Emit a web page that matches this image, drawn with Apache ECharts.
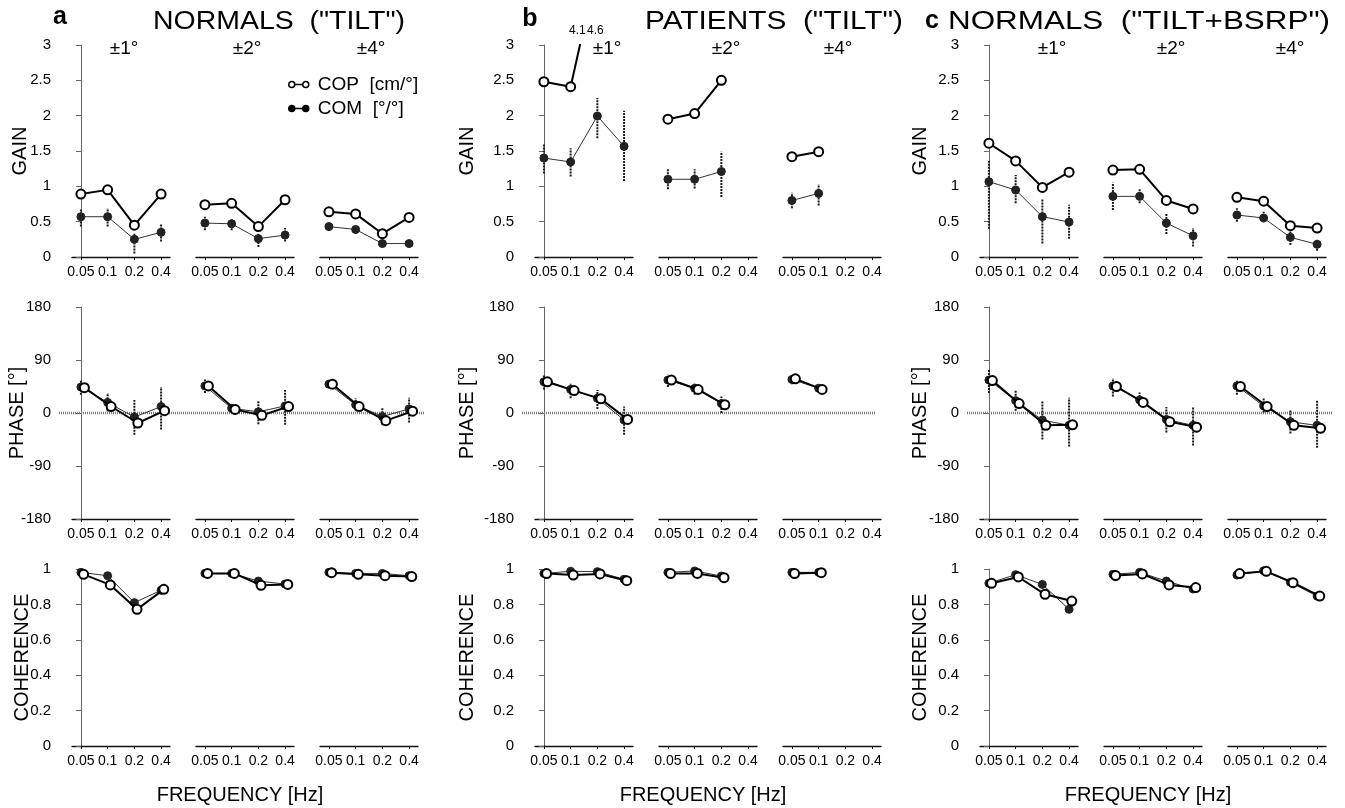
<!DOCTYPE html>
<html>
<head>
<meta charset="utf-8">
<title>Gain, phase, coherence</title>
<script src="https://cdn.jsdelivr.net/npm/echarts@6/dist/echarts.min.js"></script>
<style>
    html, body { margin: 0; padding: 0; background: #fff; }
    #main { width: 1345px; height: 808px; }
</style>
</head>
<body>
<div id="main"></div>
<script>
    const freqLabels = ['0.05', '0.1', '0.2', '0.4'];
    const ampLabels = ['±1°', '±2°', '±4°'];

    // a  NORMALS ("TILT")   one row per amplitude, one value per frequency
    const aGainCOP = [[0.89, 0.95, 0.45, 0.89], [0.74, 0.76, 0.43, 0.81], [0.64, 0.61, 0.33, 0.56]];
    const aGainCOM = [[0.57, 0.57, 0.25, 0.35], [0.48, 0.47, 0.26, 0.31], [0.43, 0.39, 0.19, 0.19]];
    const aGainLo = [[0.43, 0.43, 0.05, 0.22], [0.38, 0.38, 0.14, 0.22], [0.37, 0.33, 0.15, 0.15]];
    const aGainHi = [[0.68, 0.69, 0.33, 0.47], [0.57, 0.55, 0.33, 0.41], [0.49, 0.44, 0.23, 0.23]];
    const aPhaseCOP = [[43, 11, -17, 4], [46, 6, -4, 11], [49, 11, -13, 3]];
    const aPhaseCOM = [[44, 18, -7, 11], [46, 8, 2, 12], [49, 14, -6, 7]];
    const aPhaseLo = [[31, 3, -37, -28], [34, 1, -19, -20], [44, 4, -21, -16]];
    const aPhaseHi = [[56, 34, 22, 44], [57, 14, 20, 39], [53, 25, 8, 26]];
    const aCohCOP = [[0.97, 0.91, 0.772, 0.885], [0.975, 0.975, 0.908, 0.913], [0.979, 0.97, 0.962, 0.957]];
    const aCohCOM = [[0.981, 0.962, 0.81, 0.88], [0.975, 0.975, 0.932, 0.915], [0.981, 0.975, 0.975, 0.962]];

    // b  PATIENTS ("TILT")
    const bGainCOP = [[2.48, 2.41, 4.1, 4.6], [1.95, 2.03, 2.5, null], [1.42, 1.49, null, null]];
    const bGainCOM = [[1.40, 1.345, 1.995, 1.566], [1.10, 1.10, 1.21, null], [0.80, 0.90, null, null]];
    const bGainLo = [[1.18, 1.14, 1.68, 1.075], [0.96, 0.97, 0.85, null], [0.69, 0.73, null, null]];
    const bGainHi = [[1.60, 1.54, 2.25, 2.07], [1.24, 1.24, 1.49, null], [0.91, 1.03, null, null]];
    const bPhaseCOP = [[53, 38, 24, -11], [56, 40, 14, null], [58, 40, null, null]];
    const bPhaseCOM = [[53, 40, 25, -12], [56, 42, 16, null], [57, 42, null, null]];
    const bPhaseLo = [[40, 25, 7, -37], [44, 31, 0, null], [49, 37, null, null]];
    const bPhaseHi = [[65, 51, 39, 11], [65, 51, 28, null], [63, 48, null, null]];
    const bCohCOP = [[0.974, 0.966, 0.972, 0.934], [0.974, 0.975, 0.951, null], [0.974, 0.979, null, null]];
    const bCohCOM = [[0.975, 0.987, 0.985, 0.942], [0.981, 0.989, 0.96, null], [0.981, 0.981, null, null]];

    // c  NORMALS ("TILT+BSRP")
    const cGainCOP = [[1.61, 1.36, 0.985, 1.2], [1.23, 1.24, 0.80, 0.68], [0.845, 0.79, 0.443, 0.41]];
    const cGainCOM = [[1.066, 0.948, 0.571, 0.495], [0.858, 0.858, 0.48, 0.30], [0.594, 0.552, 0.278, 0.179]];
    const cGainLo = [[0.40, 0.76, 0.19, 0.26], [0.665, 0.76, 0.325, 0.15], [0.5, 0.49, 0.17, 0.09]];
    const cGainHi = [[1.36, 1.16, 0.82, 0.74], [1.05, 0.97, 0.62, 0.41], [0.69, 0.64, 0.36, 0.25]];
    const cPhaseCOP = [[55, 16, -21, -20], [45, 18, -15, -24], [45, 11, -21, -26]];
    const cPhaseCOM = [[56, 21, -12, -21], [46, 22, -11, -21], [46, 12, -15, -21]];
    const cPhaseLo = [[34, 4, -45, -57], [28, 12, -33, -55], [31, 1, -35, -59]];
    const cPhaseHi = [[73, 38, 20, 26], [59, 35, 10, 11], [56, 25, 6, 22]];
    const cCohCOP = [[0.919, 0.955, 0.857, 0.819], [0.963, 0.972, 0.91, 0.895], [0.974, 0.987, 0.923, 0.847]];
    const cCohCOM = [[0.919, 0.968, 0.913, 0.772], [0.97, 0.981, 0.932, 0.887], [0.966, 0.99, 0.925, 0.847]];

    const zeroRef = [[0, 0], [1, 0]];

    const COP = 'COP  [cm/°]';
    const COM = 'COM  [°/°]';
    const FONT = 'Liberation Sans, Arial, sans-serif';

    const panels = [
        {x: 59, letter: 'a', title: 'NORMALS  ("TILT")', titleX: 279, titleW: 252, sub: [124, 247, 371], zeroEnd: 425,
            gaps: [29, 32, 27], gain: [aGainCOP, aGainCOM, aGainLo, aGainHi],
            phase: [aPhaseCOP, aPhaseCOM, aPhaseLo, aPhaseHi], coh: [aCohCOP, aCohCOM]},
        {x: 522, letter: 'b', title: 'PATIENTS  ("TILT")', titleX: 774, titleW: 258, sub: [607, 726, 838], zeroEnd: 875,
            gaps: [45, 45, 45], gain: [bGainCOP, bGainCOM, bGainLo, bGainHi],
            phase: [bPhaseCOP, bPhaseCOM, bPhaseLo, bPhaseHi], coh: [bCohCOP, bCohCOM]},
        {x: 967, letter: 'c', title: 'NORMALS  ("TILT+BSRP")', titleX: 1139, titleW: 382, sub: [1052, 1171, 1290], zeroEnd: 1333,
            gaps: [37, 37, 37], gain: [cGainCOP, cGainCOM, cGainLo, cGainHi],
            phase: [cPhaseCOP, cPhaseCOM, cPhaseLo, cPhaseHi], coh: [cCohCOP, cCohCOM]}
    ];

    const rows = [
        {key: 'gain', top: 45, height: 212, min: 0, max: 3, interval: 0.5, name: 'GAIN', shift: 0},
        {key: 'phase', top: 307, height: 212, min: -180, max: 180, interval: 90, name: 'PHASE [°]', shift: 0.13},
        {key: 'coh', top: 569, height: 177, min: 0, max: 1, interval: 0.2, name: 'COHERENCE', shift: 0.1}
    ];

    const segW = 98;
    const grid = [], xAxis = [], yAxis = [], series = [];

    function pts(vals, shift) {
        const out = [];
        vals.forEach(function (v, i) { if (v != null) out.push([i + shift, v]); });
        return out;
    }

    function bars(lo, hi) {
        const out = [];
        lo.forEach(function (v, i) { if (v != null) out.push([i, v, hi[i]]); });
        return out;
    }

    function errorBar(params, api) {
        const p1 = api.coord([api.value(0), api.value(1)]);
        const p2 = api.coord([api.value(0), api.value(2)]);
        return {
            type: 'line',
            shape: {x1: p1[0], y1: p1[1], x2: p2[0], y2: p2[1]},
            style: {stroke: '#1a1a1a', lineWidth: 2, lineDash: [2, 1]}
        };
    }

    panels.forEach(function (p) {
        rows.forEach(function (r, ri) {
            if (r.key === 'phase') {
                const zi = grid.length;
                grid.push({left: p.x, top: r.top, width: p.zeroEnd - p.x, height: r.height});
                xAxis.push({type: 'value', gridIndex: zi, min: 0, max: 1, show: false});
                yAxis.push({type: 'value', gridIndex: zi, min: r.min, max: r.max, show: false});
                series.push({
                    type: 'line', name: 'zero', xAxisIndex: zi, yAxisIndex: zi, data: zeroRef,
                    symbol: 'none', silent: true, z: 0,
                    lineStyle: {color: '#777', width: 2.5, type: [1, 1]}
                });
            }
            for (let k = 0; k < 3; k++) {
                const gi = grid.length;
                grid.push({left: p.x + 13 + 124 * k, top: r.top, width: segW, height: r.height});
                xAxis.push({
                    type: 'value', gridIndex: gi, min: -1 / 3, max: 10 / 3,
                    axisLine: {onZero: false, lineStyle: {color: '#111', width: 1.3}},
                    axisTick: {customValues: [0, 1, 2, 3], length: 3, lineStyle: {color: '#111'}},
                    axisLabel: {
                        customValues: [0, 1, 2, 3], margin: 8, fontSize: 14, color: '#000', fontFamily: FONT,
                        formatter: function (v) { return freqLabels[Math.round(v)]; }
                    },
                    splitLine: {show: false}
                });
                if (k === 0) {
                    yAxis.push({
                        type: 'value', gridIndex: gi, min: r.min, max: r.max, interval: r.interval, offset: 13,
                        name: r.name, nameLocation: 'middle', nameGap: p.gaps[ri], nameMoveOverlap: false,
                        nameTextStyle: {fontSize: 20, color: '#000', fontFamily: FONT},
                        axisLine: {show: true, lineStyle: {color: '#666', width: 1}},
                        axisTick: {show: true, length: 5, lineStyle: {color: '#666'}},
                        axisLabel: {fontSize: 15, color: '#000', margin: 8, fontFamily: FONT},
                        splitLine: {show: false}
                    });
                } else {
                    yAxis.push({type: 'value', gridIndex: gi, min: r.min, max: r.max, show: false});
                }
                const set = p[r.key];
                const copVals = set[0][k], comVals = set[1][k];
                if (set.length > 2) {
                    series.push({
                        type: 'custom', name: 'sd', xAxisIndex: gi, yAxisIndex: gi, z: 1, silent: true,
                        data: bars(set[2][k], set[3][k]), encode: {x: 0, y: [1, 2]}, renderItem: errorBar
                    });
                }
                series.push({
                    type: 'line', name: COM, xAxisIndex: gi, yAxisIndex: gi, z: 2,
                    data: pts(comVals, 0), symbol: 'circle', symbolSize: 8, clip: true,
                    lineStyle: {color: '#333', width: 1},
                    itemStyle: {color: '#222', borderColor: '#222', borderWidth: 1}
                });
                series.push({
                    type: 'line', name: COP, xAxisIndex: gi, yAxisIndex: gi, z: 3,
                    data: pts(copVals, r.shift), symbol: 'circle', symbolSize: 9, clip: true,
                    lineStyle: {color: '#000', width: 2},
                    itemStyle: {color: '#fff', borderColor: '#000', borderWidth: 2}
                });
            }
        });
    });

    // stretched heading text, as in the figure
    const measure = document.createElement('canvas').getContext('2d');
    function wideText(str, cx, cy, width, size, weight) {
        measure.font = (weight || 'normal') + ' ' + size + 'px ' + FONT;
        const w = measure.measureText(str).width;
        return {
            type: 'text', x: cx, y: cy, scaleX: width / w, silent: true,
            style: {text: str, x: 0, y: 0, align: 'center', verticalAlign: 'middle',
                font: (weight || 'normal') + ' ' + size + 'px ' + FONT, fill: '#000'}
        };
    }
    function plainText(str, cx, cy, size, weight, align) {
        return {
            type: 'text', x: cx, y: cy, silent: true,
            style: {text: str, x: 0, y: 0, align: align || 'center', verticalAlign: 'middle',
                font: (weight || 'normal') + ' ' + size + 'px ' + FONT, fill: '#000'}
        };
    }

    const graphic = [];
    panels.forEach(function (p) {
        graphic.push(wideText(p.title, p.titleX, 22, p.titleW, 25));
        p.sub.forEach(function (sx, k) { graphic.push(plainText(ampLabels[k], sx, 49, 19)); });
        graphic.push(plainText('FREQUENCY [Hz]', p.x + 13 + 124 + segW / 2 - 5, 795, 20));
    });
    graphic.push(plainText('a', 60, 17, 25, 'bold'));
    graphic.push(plainText('b', 530, 19, 25, 'bold'));
    graphic.push(plainText('c', 932, 21, 25, 'bold'));
    graphic.push(plainText('4.1', 569, 31, 12, 'normal', 'left'));
    graphic.push(plainText('4.6', 587, 31, 12, 'normal', 'left'));

    const pairIcon = 'path://M0,4A3,3,0,1,1,6,4A3,3,0,1,1,0,4ZM6,4L14,4M14,4A3,3,0,1,1,20,4A3,3,0,1,1,14,4Z';

    const chart = echarts.init(document.getElementById('main'));
    chart.setOption({
        animation: false,
        backgroundColor: '#fff',
        textStyle: {fontFamily: FONT, color: '#000'},
        legend: {
            left: 283, top: 70, orient: 'vertical', itemGap: 5, itemWidth: 20, itemHeight: 7,
            selectedMode: false,
            textStyle: {fontSize: 19, color: '#000', fontFamily: FONT, padding: [0, 0, 0, 4]},
            data: [
                {name: COP, icon: pairIcon, itemStyle: {color: '#fff', borderColor: '#000', borderWidth: 1.5}},
                {name: COM, icon: pairIcon, itemStyle: {color: '#000', borderColor: '#000', borderWidth: 1.5}}
            ]
        },
        grid: grid,
        xAxis: xAxis,
        yAxis: yAxis,
        series: series,
        graphic: graphic
    });
</script>
</body>
</html>
